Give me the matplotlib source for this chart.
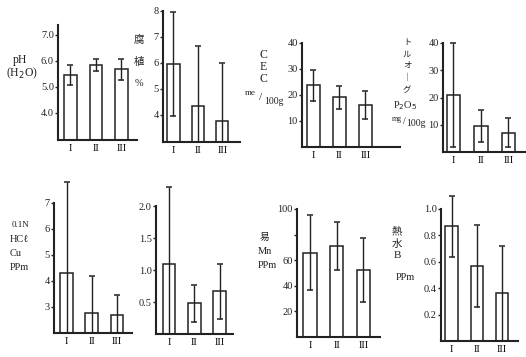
import matplotlib
matplotlib.use("Agg")
import matplotlib.pyplot as plt

plt.rcParams['font.family'] = ['Liberation Serif', 'Noto Sans CJK JP', 'DejaVu Sans']

W, H = 526, 357

# groups
groups = ['I', 'II', 'III']

# mean values and +/- error
ph_mean = [5.47, 5.85, 5.68]
ph_err = [0.38, 0.22, 0.40]
humus_mean = [5.95, 4.35, 3.75]
humus_err = [2.0, 2.3, 2.25]
cec_mean = [23.7, 19.2, 16.2]
cec_err = [6.0, 4.4, 5.5]
p2o5_mean = [21.0, 9.5, 7.0]
p2o5_err = [19.0, 6.0, 5.3]
cu_mean = [4.3, 2.78, 2.68]
cu_err = [3.5, 1.42, 0.8]
p6_mean = [1.1, 0.48, 0.67]
p6_err = [1.2, 0.29, 0.43]
mn_mean = [66.0, 71.0, 52.0]
mn_err = [29.0, 18.5, 25.0]
b_mean = [0.87, 0.57, 0.36]
b_err = [0.23, 0.31, 0.36]

# yticks
ph_ticks = [4.0, 5.0, 6.0, 7.0]
humus_ticks = [4, 5, 6, 7, 8]
cec_ticks = [10, 20, 30, 40]
p2o5_ticks = [10, 20, 30, 40]
cu_ticks = [3, 4, 5, 6, 7]
p6_ticks = [0.5, 1.0, 1.5, 2.0]
mn_ticks = [20, 40, 60, 80, 100]
b_ticks = [0.2, 0.4, 0.6, 0.8, 1.0]

fig = plt.figure(figsize=(W / 100, H / 100), dpi=100)
ink = '#222222'


def panel(box, ylim, xlim, mean, err, ticks, ticklabels):
    l, t, r, b = box
    ax = fig.add_axes([l / W, 1 - b / H, (r - l) / W, (b - t) / H])
    x = [1, 2, 3]
    ax.bar(x, mean, width=0.5, color='white', edgecolor=ink, linewidth=1.1)
    # lower whisker stops at the x axis
    lo = [min(e, m - ylim[0]) for m, e in zip(mean, err)]
    ax.errorbar(x, mean, yerr=[lo, err], fmt='none', ecolor=ink,
                elinewidth=1.0, capsize=2.5, capthick=1.1, clip_on=False)
    ax.set_xlim(*xlim)
    ax.set_ylim(*ylim)
    ax.set_yticks(ticks)
    ax.set_yticklabels(ticklabels, fontsize=7.5)
    ax.set_xticks(x)
    ax.set_xticklabels(groups, fontsize=7.5)
    ax.tick_params(axis='x', length=0, pad=3)
    ax.tick_params(axis='y', length=2, width=1, pad=1, direction='out', colors=ink)
    for s in ['top', 'right']:
        ax.spines[s].set_visible(False)
    for s in ['left', 'bottom']:
        ax.spines[s].set_linewidth(1.5)
        ax.spines[s].set_color(ink)
    return ax


panel((58, 25, 137, 140), (2.96, 7.38), (0.51, 3.61), ph_mean, ph_err,
      ph_ticks, ['4.0', '5.0', '6.0', '7.0'])
panel((163, 11, 240, 142), (2.95, 8.0), (0.57, 3.73), humus_mean, humus_err,
      humus_ticks, ['4', '5', '6', '7', '8'])
panel((302, 43, 400, 147), (0, 40), (0.56, 4.33), cec_mean, cec_err,
      cec_ticks, ['10', '20', '30', '40'])
panel((443, 43, 525, 152), (0, 40), (0.62, 3.6), p2o5_mean, p2o5_err,
      p2o5_ticks, ['10', '20', '30', '40'])
panel((54, 203, 132, 333), (2.0, 7.0), (0.5, 3.6), cu_mean, cu_err,
      cu_ticks, ['3', '4', '5', '6', '7'])
panel((156, 206, 233, 334), (0, 2.0), (0.49, 3.53), p6_mean, p6_err,
      p6_ticks, ['0.5', '1.0', '1.5', '2.0'])
panel((297, 209, 380, 337), (0, 100), (0.51, 3.62), mn_mean, mn_err,
      mn_ticks, ['20', '40', '60', '', '100'])
panel((441, 209, 518, 341), (0, 1.0), (0.58, 3.63), b_mean, b_err,
      b_ticks, ['0.2', '0.4', '0.6', '0.8', '1.0'])


def label(x, y, s, size=8, ha='center'):
    fig.text(x / W, 1 - y / H, s, fontsize=size, ha=ha, va='center', color=ink)


label(20, 60, 'pH', 8.5)
label(22, 73, '(H$_2$O)', 8.5)

label(139, 40, '腐', 7.5)
label(139, 62, '植', 7.5)
label(139, 83, '%', 7.5)

label(263, 55, 'C', 8.5)
label(263, 67, 'E', 8.5)
label(263, 79, 'C', 8.5)
label(250, 93, 'me', 6.5)
label(261, 97, '/', 8)
label(274, 102, '100g', 7)

for yy, ch in zip([43, 55, 66, 78, 90], ['ト', 'ル', 'オ', '｜', 'グ']):
    label(407, yy, ch, 6)
label(405, 106, 'P$_2$O$_5$', 7.5)
label(397, 119, 'mg', 5.5)
label(404, 121, '/', 7)
label(416, 123, '100g', 7)

label(12, 225, '0.1N', 6.5, ha='left')
label(10, 240, 'HCℓ', 7.5, ha='left')
label(10, 254, 'Cu', 7.5, ha='left')
label(10, 268, 'PPm', 7.5, ha='left')

label(260, 237, '易', 7, ha='left')
label(258, 252, 'Mn', 7.5, ha='left')
label(258, 266, 'PPm', 7.5, ha='left')

label(397, 232, '熱', 7.5)
label(397, 244, '水', 7.5)
label(397, 256, 'B', 8)
label(405, 278, 'PPm', 7.5)

plt.savefig('out.png', dpi=100)
